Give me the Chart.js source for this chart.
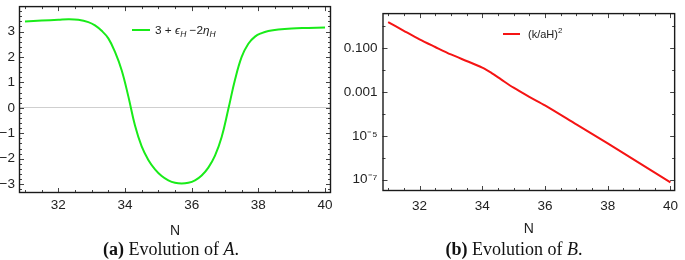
<!DOCTYPE html>
<html><head><meta charset="utf-8">
<script src="https://cdn.jsdelivr.net/npm/chart.js@4.4.1/dist/chart.umd.min.js"></script>
<style>
html,body{margin:0;padding:0;background:#fff;width:685px;height:260px;overflow:hidden;position:relative}
#ca{position:absolute;left:0;top:-6px}
#cb{position:absolute;left:340px;top:0}
.cap{position:absolute;top:239px;font-family:"Liberation Serif","Times New Roman",serif;font-size:18px;color:#111;white-space:nowrap;transform:translateX(-50%)}
</style></head>
<body>
<canvas id="ca" width="340" height="246" style="width:340px;height:246px"></canvas>
<canvas id="cb" width="345" height="238" style="width:345px;height:238px"></canvas>
<div class="cap" style="left:171px"><b>(a)</b> Evolution of <i>A</i>.</div>
<div class="cap" style="left:514px"><b>(b)</b> Evolution of <i>B</i>.</div>
<script>
// ---- data ----
const nA = [31, 31.5, 32, 32.3, 32.6, 32.9, 33.1, 33.3, 33.5, 33.7, 33.9, 34.1, 34.3, 34.5, 34.7, 34.9, 35.1, 35.3, 35.5, 35.7, 35.9, 36.1, 36.3, 36.5, 36.7, 36.9, 37.1, 37.3, 37.5, 37.7, 37.9, 38.1, 38.3, 38.6, 39.0, 39.5, 40];
const evoA = [3.39, 3.43, 3.46, 3.48, 3.46, 3.37, 3.24, 3.03, 2.73, 2.2, 1.48, 0.45, -0.7, -1.52, -2.05, -2.42, -2.68, -2.85, -2.95, -2.98, -2.95, -2.85, -2.66, -2.35, -1.88, -1.15, -0.05, 1.1, 2.0, 2.52, 2.8, 2.94, 3.02, 3.08, 3.12, 3.14, 3.16];
const nB = [31, 31.5, 32, 32.5, 33, 33.5, 34, 34.3, 34.6, 35, 35.5, 36, 37, 38, 39, 40];
const evoB = [1.585, 0.631, 0.257, 0.115, 0.0525, 0.0263, 0.0132, 0.00741, 0.0038, 0.00158, 6.03e-4, 2.45e-4, 3.31e-5, 4.47e-6, 5.75e-7, 7.41e-8];
const labelA = '3 + ϵH −2ηH';
const labelB = '(k/aH)2';
const xTicks = [32, 34, 36, 38, 40];
const xMinor = [31, 31.5, 32.5, 33, 33.5, 34.5, 35, 35.5, 36.5, 37, 37.5, 38.5, 39, 39.5, 40.5];
const yTicksA = [-3, -2, -1, 0, 1, 2, 3];
const yMinorA = [-3.2, -2.8, -2.6, -2.4, -2.2, -1.8, -1.6, -1.4, -1.2, -0.8, -0.6, -0.4, -0.2, 0.2, 0.4, 0.6, 0.8, 1.2, 1.4, 1.6, 1.8, 2.2, 2.4, 2.6, 2.8, 3.2, 3.4, 3.6, 3.8];
const yTicksB = [1e-7, 1e-5, 1e-3, 1e-1];
const yTickLabelsB = ['10⁻⁷', '10⁻⁵', '0.001', '0.100'];
const yMinorB = [1e-6, 1e-4, 1e-2, 1];

const FONT = '"Liberation Sans", Arial, sans-serif';
const tickFont = {family: FONT, size: 13.5};
const TXT = '#222';

const framePlugin = {
  id: 'frame',
  afterDraw(chart, args, o) {
    const {ctx, chartArea: a, scales: {x, y}} = chart;
    ctx.save();
    ctx.strokeStyle = '#444'; ctx.lineWidth = 1;
    const seg = (x1, y1, x2, y2) => { ctx.beginPath(); ctx.moveTo(x1, y1); ctx.lineTo(x2, y2); ctx.stroke(); };
    const xt = (list, len) => list.forEach(v => {
      const p = Math.round(x.getPixelForValue(v)) + 0.5;
      if (p < a.left || p > a.right) return;
      seg(p, a.bottom, p, a.bottom - len); seg(p, a.top, p, a.top + len);
    });
    const yt = (list, len) => list.forEach(v => {
      const p = Math.round(y.getPixelForValue(v)) + 0.5;
      if (p < a.top || p > a.bottom) return;
      seg(a.left, p, a.left + len, p); seg(a.right, p, a.right - len, p);
    });
    xt(o.xMajor, 5); xt(o.xMinor, 3);
    yt(o.yMajor, 5); yt(o.yMinor, 3);
    ctx.strokeStyle = '#1a1a1a'; ctx.lineWidth = 1.4;
    ctx.strokeRect(a.left + 0.5, a.top + 0.5, a.right - a.left - 1, a.bottom - a.top - 1);
    ctx.restore();
  }
};

const legendPlugin = {
  id: 'inLegend',
  afterDatasetsDraw(chart, args, o) {
    const {ctx} = chart;
    const ds = chart.data.datasets[0];
    ctx.save();
    ctx.strokeStyle = ds.borderColor; ctx.lineWidth = 2;
    ctx.beginPath(); ctx.moveTo(o.x, o.y); ctx.lineTo(o.x + o.w, o.y); ctx.stroke();
    let tx = o.x + o.w + o.gap;
    ctx.fillStyle = TXT; ctx.textBaseline = 'alphabetic'; ctx.textAlign = 'left';
    for (const p of o.parts) {
      const size = p.sub || p.sup ? o.size * 0.72 : o.size;
      ctx.font = (p.i ? 'italic ' : '') + size + 'px ' + FONT;
      const dy = p.sub ? 3 : (p.sup ? -5 : 0);
      ctx.fillText(p.t, tx, o.y + 4 + dy);
      tx += ctx.measureText(p.t).width;
    }
    ctx.restore();
  }
};

function xScale(min, max, pad, h) {
  return {
    type: 'linear', min, max,
    afterBuildTicks: s => { s.ticks = xTicks.map(v => ({value: v})); },
    afterFit: s => { s.height = h; },
    grid: {display: false, drawTicks: false},
    border: {display: false},
    ticks: {font: tickFont, color: TXT, padding: pad, maxRotation: 0, autoSkip: false},
    title: {display: true, text: 'N', font: {family: FONT, size: 14}, color: TXT, padding: {top: 0, bottom: 0}}
  };
}

function draw() {
new Chart(document.getElementById('ca'), {
  type: 'line',
  data: {datasets: [{label: labelA, data: nA.map((n, i) => ({x: n, y: evoA[i]})),
    borderColor: 'rgb(25,235,25)', borderWidth: 2, pointRadius: 0, tension: 0.4, fill: false}]},
  options: {
    responsive: false, animation: false, events: [],
    layout: {padding: {left: 0, right: 9, top: 1, bottom: 0}},
    plugins: {legend: {display: false}, tooltip: {enabled: false},
      frame: {xMajor: xTicks, xMinor: xMinor, yMajor: yTicksA, yMinor: yMinorA},
      inLegend: {x: 132, y: 36, w: 18, gap: 5, size: 11.8, parts: [
        {t: '3 + '}, {t: 'ϵ', i: 1}, {t: 'H', i: 1, sub: 1}, {t: ' −2'}, {t: 'η', i: 1}, {t: 'H', i: 1, sub: 1}]}},
    scales: {
      x: xScale(30.82, 40.18, 4, 47),
      y: {min: -3.35, max: 4.0,
        afterBuildTicks: s => { s.ticks = yTicksA.map(v => ({value: v})); },
        afterFit: s => { s.width = 19; },
        grid: {drawTicks: false, lineWidth: 1, color: c => (c.tick && c.tick.value === 0) ? '#cfcfcf' : 'rgba(0,0,0,0)'},
        border: {display: false},
        ticks: {font: tickFont, color: TXT, padding: 4, callback: v => String(v).replace('-', '−')}}
    }
  },
  plugins: [framePlugin, legendPlugin]
});

new Chart(document.getElementById('cb'), {
  type: 'line',
  data: {datasets: [{label: labelB, data: nB.map((n, i) => ({x: n, y: evoB[i]})),
    borderColor: 'rgb(245,20,20)', borderWidth: 2, pointRadius: 0, tension: 0.3, fill: false}]},
  options: {
    responsive: false, animation: false, events: [],
    layout: {padding: {left: 0, right: 3.5, top: 5, bottom: 0}},
    plugins: {legend: {display: false}, tooltip: {enabled: false},
      frame: {xMajor: xTicks, xMinor: xMinor, yMajor: yTicksB, yMinor: yMinorB},
      inLegend: {x: 163, y: 34, w: 17, gap: 8, size: 11, parts: [{t: '(k/aH)'}, {t: '2', sup: 1}]}},
    scales: {
      x: xScale(30.82, 40.15, 7, 47),
      y: {type: 'logarithmic', min: Math.pow(10, -7.48), max: Math.pow(10, 0.61),
        afterBuildTicks: s => { s.ticks = yTicksB.map(v => ({value: v})); },
        afterFit: s => { s.width = 42.5; },
        grid: {display: false, drawTicks: false},
        border: {display: false},
        ticks: {font: tickFont, color: TXT, padding: 5, callback: (v, i) => yTickLabelsB[i]}}
    }
  },
  plugins: [framePlugin, legendPlugin]
});
}
Promise.all([
  document.fonts.load('13px "Liberation Sans"'),
  document.fonts.load('italic 11px "Liberation Sans"')
]).then(draw, draw);
</script>
</body></html>
